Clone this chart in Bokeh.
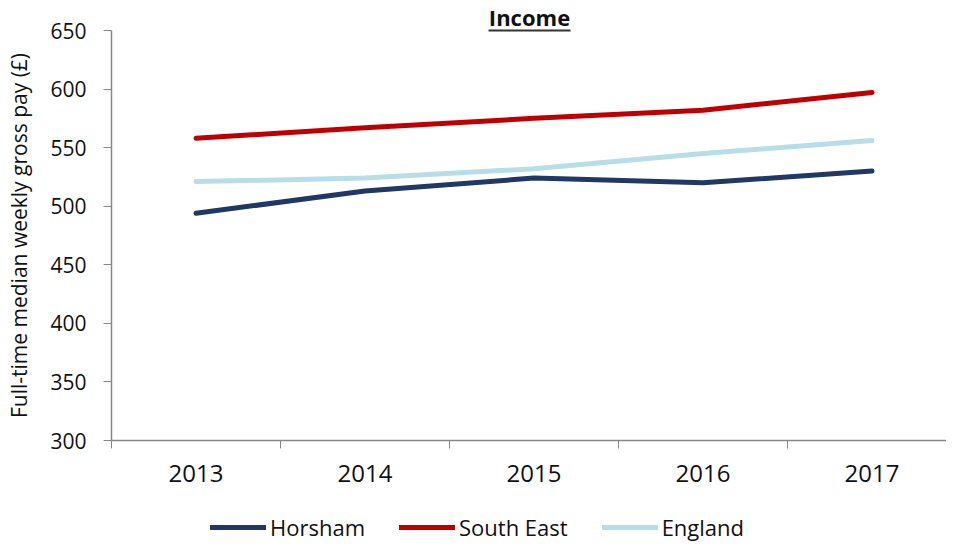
from bokeh.plotting import figure
from bokeh.models import (FixedTicker, Legend, LegendItem, BoxAnnotation, Range1d, Label)
from bokeh.embed import file_html
from bokeh.resources import INLINE

years = ["2013", "2014", "2015", "2016", "2017"]
horsham = [494, 513, 524, 520, 530]
south_east = [558, 567, 575, 582, 597]
england = [521, 524, 532, 545, 556]
y_ticks = [300, 350, 400, 450, 500, 550, 600, 650]

xs = list(range(len(years)))

FONT = "Open Sans"
GREY = "#868686"
INK = "#111111"

# layout (pixels)
W, H = 946, 542
AX_LEFT, AX_TOP, AX_BOTTOM, CAT_W = 111, 30, 440, 169
ppu = (AX_BOTTOM - AX_TOP) / (y_ticks[-1] - y_ticks[0])
x0 = -0.5 - AX_LEFT / CAT_W
x1 = -0.5 + (W - AX_LEFT) / CAT_W
y1 = y_ticks[-1] + AX_TOP / ppu
y0 = y_ticks[0] - (H - AX_BOTTOM) / ppu

p = figure(width=W, height=H, output_backend="svg", toolbar_location=None,
           x_range=Range1d(x0, x1), y_range=Range1d(y0, y1),
           min_border=0)
p.outline_line_color = None
p.xgrid.visible = False
p.ygrid.visible = False

series = [("Horsham", horsham, "#1F3864"),
          ("South East", south_east, "#C00000"),
          ("England", england, "#B7DEE8")]
items = []
for name, vals, col in series:
    r = p.line(xs, vals, line_color=col, line_width=5, line_cap="round", line_join="round")
    items.append(LegendItem(label=name, renderers=[r]))

# x axis: labels at category centres, ticks at category boundaries
p.xaxis.fixed_location = y_ticks[0]
p.xaxis.bounds = (-0.5, len(years) - 0.5)
p.xaxis.ticker = FixedTicker(ticks=xs, minor_ticks=[i - 0.5 for i in range(len(years) + 1)])
p.xaxis.major_label_overrides = {i: y for i, y in enumerate(years)}
p.xaxis.major_tick_line_color = None
p.xaxis.major_tick_out = 0
p.xaxis.major_tick_in = 0
p.xaxis.minor_tick_line_color = GREY
p.xaxis.minor_tick_out = 8
p.xaxis.minor_tick_in = 0
p.xaxis.axis_line_color = GREY
p.xaxis.axis_line_width = 1.5
p.xaxis.major_label_text_font = FONT
p.xaxis.major_label_text_font_size = "24px"
p.xaxis.major_label_text_color = INK
p.xaxis.major_label_standoff = 16

p.yaxis.fixed_location = -0.5
p.yaxis.ticker = FixedTicker(ticks=y_ticks)
p.yaxis.bounds = (y_ticks[0], y_ticks[-1])
p.yaxis.minor_tick_line_color = None
p.yaxis.major_tick_out = 8
p.yaxis.major_tick_in = 0
p.yaxis.major_tick_line_color = GREY
p.yaxis.axis_line_color = GREY
p.yaxis.axis_line_width = 1.5
p.yaxis.major_label_text_font = FONT
p.yaxis.major_label_text_font_size = "21px"
p.yaxis.major_label_text_color = INK
p.yaxis.major_label_standoff = 17
p.yaxis.axis_label = "Full-time median weekly gross pay (£)"
p.yaxis.axis_label_text_font = FONT
p.yaxis.axis_label_text_font_size = "21px"
p.yaxis.axis_label_text_font_style = "normal"
p.yaxis.axis_label_text_color = INK
p.yaxis.axis_label_standoff = 14

# title with underline
title = Label(x=529, y=16, x_units="canvas", y_units="canvas", text="Income",
              text_font=FONT, text_font_size="22px", text_font_style="bold",
              text_align="center", text_baseline="alphabetic", text_color=INK)
p.add_layout(title)
underline = BoxAnnotation(left=488, right=570, top=29, bottom=31,
                          left_units="canvas", right_units="canvas",
                          top_units="canvas", bottom_units="canvas",
                          fill_color="#333333", fill_alpha=1, line_color=None)
p.add_layout(underline)

legend = Legend(items=items, orientation="horizontal", location=(210, 0),
                label_text_font=FONT, label_text_font_size="22px", label_text_color=INK,
                glyph_width=56, glyph_height=22, label_height=22, label_standoff=4,
                spacing=34, padding=0, margin=0, border_line_color=None,
                background_fill_alpha=0)
p.add_layout(legend, "center")

open("out.html", "w").write(file_html(p, INLINE))
